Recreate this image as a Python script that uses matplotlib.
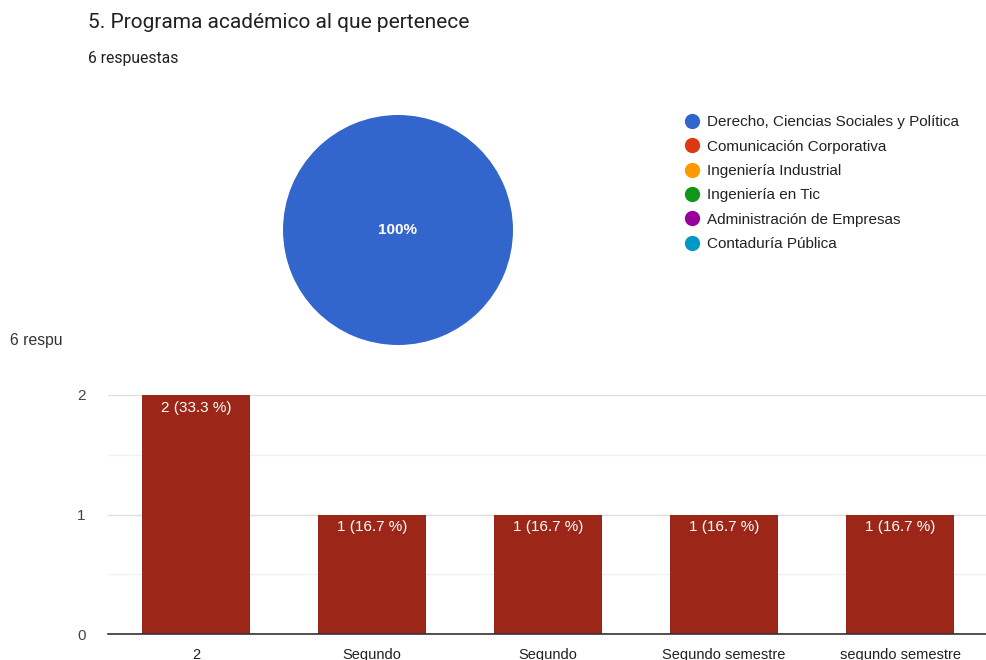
import matplotlib
matplotlib.use("Agg")
import matplotlib.pyplot as plt
from matplotlib.lines import Line2D

# pie: programa académico
programas = ['Derecho, Ciencias Sociales y Política', 'Comunicación Corporativa',
             'Ingeniería Industrial', 'Ingeniería en Tic',
             'Administración de Empresas', 'Contaduría Pública']
respuestas_prog = [6, 0, 0, 0, 0, 0]
colores_pie = ['#3366cc', '#dc3912', '#ff9900', '#109618', '#990099', '#0099c6']

# barras: semestre
semestres = ['2', 'Segundo', 'Segundo', 'Segundo semestre', 'segundo semestre']
conteos = [2, 1, 1, 1, 1]
total = 6

plt.rcParams['font.family'] = ['Liberation Sans', 'DejaVu Sans']

fig = plt.figure(figsize=(9.87, 6.6), dpi=100)
fig.patch.set_facecolor('white')

fig.text(88 / 987, 1 - 23 / 660, '5. Programa académico al que pertenece',
         fontsize=15, color='#202124', family=['Roboto', 'DejaVu Sans'], va='center')
fig.text(88 / 987, 1 - 58 / 660, '6 respuestas', fontsize=11.3, color='#202124',
         family=['Roboto', 'DejaVu Sans'], va='center')

# pie
ax_pie = fig.add_axes([283 / 987, (660 - 345) / 660, 230 / 987, 230 / 660])
wedges, _ = ax_pie.pie(respuestas_prog, colors=colores_pie, startangle=90,
                       counterclock=False, wedgeprops=dict(linewidth=0))
ax_pie.set_xlim(-1, 1)
ax_pie.set_ylim(-1, 1)
ax_pie.set_aspect('equal')
tot_prog = sum(respuestas_prog)
ax_pie.text(0, 0, f'{respuestas_prog[0] / tot_prog * 100:.0f}%', color='white',
            fontsize=11, fontweight='bold', ha='center', va='center')

handles = [Line2D([], [], marker='o', linestyle='none', markersize=11,
                  markerfacecolor=c, markeredgewidth=0) for c in colores_pie]
fig.legend(handles, programas, loc='upper left', bbox_to_anchor=(677 / 987, 1 - 109 / 660),
           frameon=False, fontsize=11, labelspacing=0.68, handletextpad=0.35,
           handlelength=1.2, labelcolor='#222222', borderaxespad=0)

fig.text(10 / 987, 1 - 340 / 660, '6 respu', fontsize=11.3, color='#333333', va='center')

# barras
ax = fig.add_axes([108 / 987, 26 / 660, 880 / 987, 239 / 660])
x = range(len(semestres))
bars = ax.bar(x, conteos, width=0.614, color='#9c2618', zorder=3)
ax.set_xlim(-0.5, len(semestres) - 0.5)
ax.set_ylim(0, 2)
ax.set_yticks([0, 1, 2])
ax.set_yticks([0.5, 1.5], minor=True)
ax.grid(axis='y', which='major', color='#e0e0e0', linewidth=1, zorder=0)
ax.grid(axis='y', which='minor', color='#f2f2f2', linewidth=1, zorder=0)
ax.tick_params(axis='y', which='both', length=0, pad=16, labelsize=11, labelcolor='#444444')
ax.tick_params(axis='x', length=0, pad=10, labelsize=10.5, labelcolor='#222222')
ax.set_xticks(list(x))
ax.set_xticklabels(semestres)
for s in ['top', 'right', 'left']:
    ax.spines[s].set_visible(False)
ax.spines['bottom'].set_color('#333333')
ax.spines['bottom'].set_linewidth(1.2)
ax.spines['bottom'].set_zorder(4)

for b, v in zip(bars, conteos):
    ax.annotate(f'{v} ({v / total * 100:.1f} %)', (b.get_x() + b.get_width() / 2, v),
                xytext=(0, -4), textcoords='offset points', ha='center', va='top',
                color='white', fontsize=11, zorder=5)

fig.savefig('out.png', dpi=100, facecolor='white')
